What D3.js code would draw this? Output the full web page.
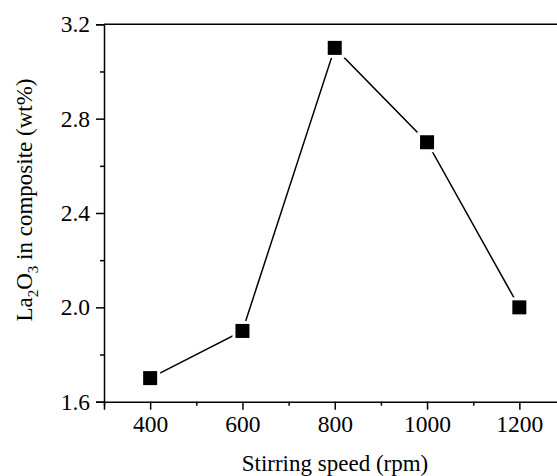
<!DOCTYPE html>
<html><head><meta charset="utf-8">
<script src="https://cdn.jsdelivr.net/npm/d3@7"></script>
<style>body{margin:0;background:#fff}svg{display:block}</style>
</head><body>
<script>
const speeds = [400, 600, 800, 1000, 1200];
const la2o3 = [1.7, 1.9, 3.1, 2.7, 2.0];
const xTicks = [400, 600, 800, 1000, 1200];
const xMinor = [300, 500, 700, 900, 1100, 1300];
const yTicks = [1.6, 2.0, 2.4, 2.8, 3.2];
const yMinor = [1.8, 2.2, 2.6, 3.0];

const W = 557, H = 476;
const svg = d3.select("body").append("svg").attr("width", W).attr("height", H);
const x = d3.scaleLinear().domain([300, 1300]).range([104, 565.5]);
const y = d3.scaleLinear().domain([1.6, 3.2]).range([401.7, 24.3]);
const font = "'Liberation Serif','Times New Roman',serif";

// top frame line
svg.append("line").attr("x1", x(300)).attr("x2", x(1300)).attr("y1", y(3.2)).attr("y2", y(3.2))
  .attr("stroke", "#000").attr("stroke-width", 1.5);

svg.append("g").attr("transform", `translate(0,${y(1.6)})`)
  .call(d3.axisBottom(x).tickValues(xTicks).tickSize(8).tickPadding(6).tickFormat(d3.format("d")));
svg.append("g").attr("transform", `translate(0,${y(1.6)})`)
  .call(d3.axisBottom(x).tickValues(xMinor).tickSize(4).tickFormat(""))
  .select(".domain").remove();
svg.append("g").attr("transform", `translate(${x(300)},0)`)
  .call(d3.axisLeft(y).tickValues(yTicks).tickSize(8).tickPadding(6).tickFormat(d3.format(".1f")));
svg.append("g").attr("transform", `translate(${x(300)},0)`)
  .call(d3.axisLeft(y).tickValues(yMinor).tickSize(4).tickFormat(""))
  .select(".domain").remove();

svg.selectAll(".domain").attr("stroke", "#000").attr("stroke-width", 1.5);
svg.selectAll(".tick line").attr("stroke", "#000").attr("stroke-width", 1.5);
svg.selectAll(".tick text").attr("font-family", font).attr("font-size", 23.5).attr("fill", "#000");

const pts = speeds.map((s, i) => ({s, v: la2o3[i]}));
svg.append("path").datum(pts)
  .attr("d", d3.line().x(d => x(d.s)).y(d => y(d.v)))
  .attr("fill", "none").attr("stroke", "#000").attr("stroke-width", 1.5);
svg.selectAll("rect.halo").data(pts).join("rect").attr("class", "halo")
  .attr("x", d => x(d.s) - 10).attr("y", d => y(d.v) - 10).attr("width", 20).attr("height", 20)
  .attr("fill", "#fff");
svg.selectAll("rect.mk").data(pts).join("rect").attr("class", "mk")
  .attr("x", d => x(d.s) - 7).attr("y", d => y(d.v) - 7).attr("width", 14).attr("height", 14)
  .attr("fill", "#000");

svg.append("text").attr("x", 335).attr("y", 471).attr("text-anchor", "middle")
  .attr("font-family", font).attr("font-size", 23).text("Stirring speed (rpm)");

const yl = svg.append("text").attr("transform", "translate(32,200) rotate(-90)")
  .attr("text-anchor", "middle").attr("font-family", font).attr("font-size", 23);
yl.append("tspan").text("La");
yl.append("tspan").attr("font-size", 15).attr("dy", 6).text("2");
yl.append("tspan").attr("dy", -6).text("O");
yl.append("tspan").attr("font-size", 15).attr("dy", 6).text("3");
yl.append("tspan").attr("dy", -6).text(" in composite (wt%)");
</script>
</body></html>
